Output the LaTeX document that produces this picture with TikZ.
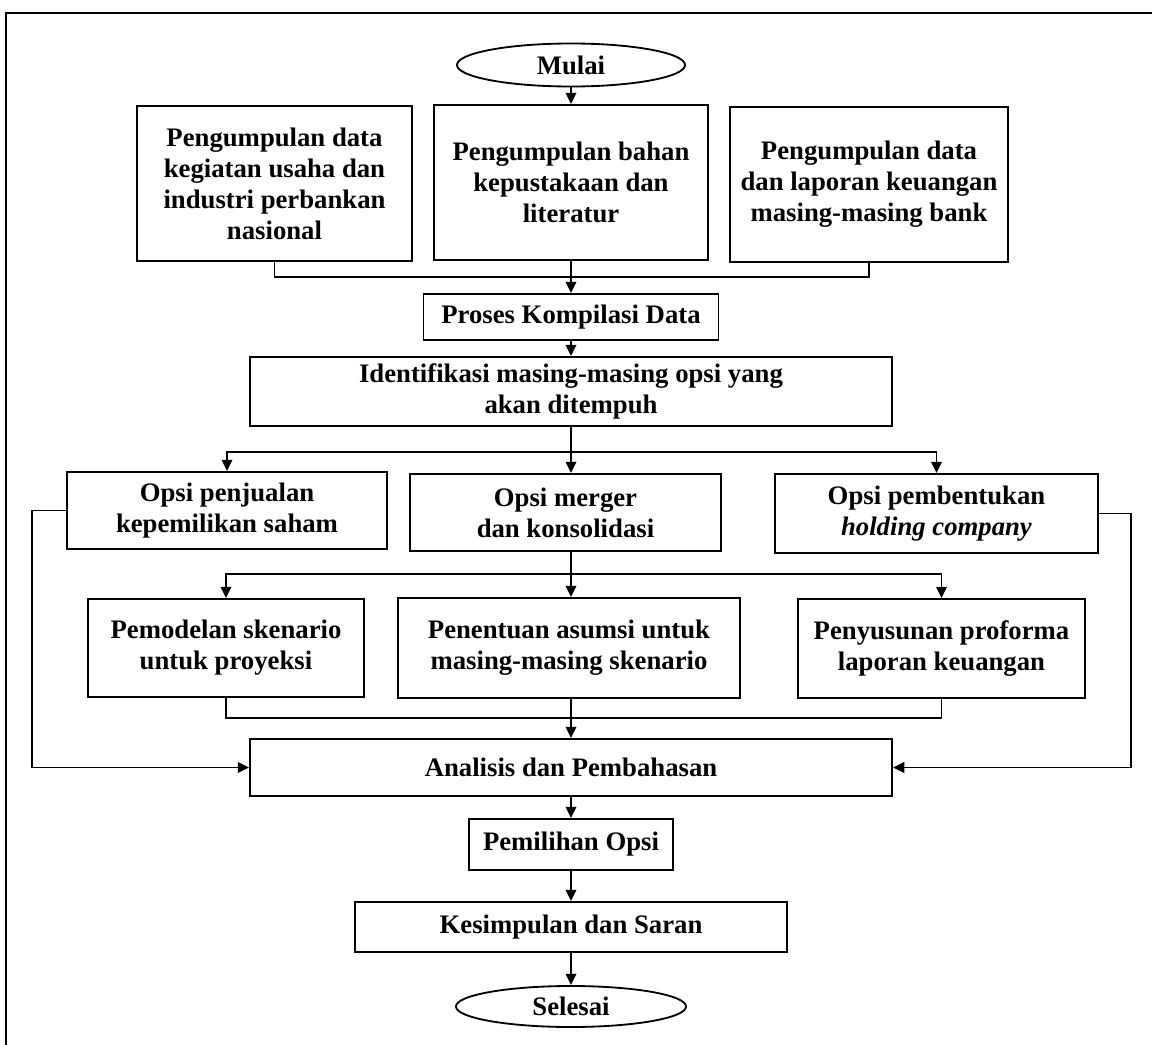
\documentclass[tikz,border=0pt]{standalone}
\usepackage{fontspec}
\setmainfont{Liberation Serif}
\usetikzlibrary{arrows.meta,shapes.geometric}

\begin{document}
\begin{tikzpicture}[x=0.025cm, y=-0.025cm, line width=1.3pt,
    kotak/.style={draw, rectangle, align=center, inner sep=0pt, font=\fontsize{19}{22}\selectfont\bfseries},
    oval/.style={draw, ellipse, inner sep=0pt, font=\fontsize{19}{22}\selectfont\bfseries},
    panah/.style={-{Triangle[length=8pt,width=7.5pt]}}]
    \useasboundingbox (0,0) rectangle (1152,1045);
    \draw (6,1045) -- (6,13) -- (1152,13);

    \node[oval, minimum width=5.7cm, minimum height=1.075cm] (mulai) at (571,65) {Mulai};
    \node[kotak, minimum width=6.875cm, minimum height=3.875cm] (data1) at (274.5,183.5) {Pengumpulan data\\kegiatan usaha dan\\industri perbankan\\nasional};
    \node[kotak, minimum width=6.85cm, minimum height=3.875cm] (pustaka) at (571,182.5) {Pengumpulan bahan\\kepustakaan dan\\literatur};
    \node[kotak, minimum width=6.95cm, minimum height=3.875cm] (data2) at (869,184.5) {Pengumpulan data\\dan laporan keuangan\\masing-masing bank};
    \node[kotak, minimum width=7.375cm, minimum height=1.15cm] (kompilasi) at (571,317) {Proses Kompilasi Data};
    \node[kotak, minimum width=16.05cm, minimum height=1.725cm] (identifikasi) at (571,391.5) {Identifikasi masing-masing opsi yang\\akan ditempuh};
    \node[kotak, minimum width=8cm, minimum height=1.925cm] (jual) at (227,510.5) {Opsi penjualan\\kepemilikan saham};
    \node[kotak, minimum width=7.775cm, minimum height=1.925cm] (merger) at (565.5,512.5) {Opsi merger\\dan konsolidasi};
    \node[kotak, minimum width=8.075cm, minimum height=1.975cm] (holding) at (936.5,513.5) {Opsi pembentukan\\\textit{holding company}};
    \node[kotak, minimum width=6.9cm, minimum height=2.45cm] (model) at (226,648) {Pemodelan skenario\\untuk proyeksi};
    \node[kotak, minimum width=8.55cm, minimum height=2.5cm] (asumsi) at (569,648) {Penentuan asumsi untuk\\masing-masing skenario};
    \node[kotak, minimum width=7.175cm, minimum height=2.475cm] (proforma) at (941.5,648.5) {Penyusunan proforma\\laporan keuangan};
    \node[kotak, minimum width=16.05cm, minimum height=1.425cm] (analisis) at (571,767.5) {Analisis dan Pembahasan};
    \node[kotak, minimum width=5.1cm, minimum height=1.275cm] (pilih) at (571,844.5) {Pemilihan Opsi};
    \node[kotak, minimum width=10.8cm, minimum height=1.25cm] (simpul) at (571,927) {Kesimpulan dan Saran};
    \node[oval, minimum width=5.75cm, minimum height=1.025cm] (selesai) at (571,1006.5) {Selesai};

    \coordinate (gab1) at (571,277);
    \coordinate (cab1) at (571,452);
    \coordinate (cab2) at (571,574);
    \coordinate (gab2) at (571,718);
    \coordinate (kiri) at (32,0);
    \coordinate (kanan) at (1131,0);

    % 矢印を引く
    \draw[panah] (mulai) -- (pustaka);
    \draw (data1.south) |- (gab1) -| (data2.south);
    \draw[panah] (pustaka) -- (kompilasi);
    \draw[panah] (kompilasi) -- (identifikasi);
    \draw (identifikasi.south) -- (cab1);
    \draw[panah] (cab1) -| (jual.north);
    \draw[panah] (cab1) -| (holding.north);
    \draw[panah] (cab1) -- (cab1 |- merger.north);
    \draw (cab1 |- merger.south) -- (cab2);
    \draw[panah] (cab2) -| (model.north);
    \draw[panah] (cab2) -| (proforma.north);
    \draw[panah] (cab2) -- (cab2 |- asumsi.north);
    \draw (model.south) |- (gab2) -| (proforma.south);
    \draw[panah] (gab2 |- asumsi.south) -- (analisis.north);
    \draw[panah] (jual.west) -| (kiri |- analisis.west) -- (analisis.west);
    \draw[panah] (holding.east) -| (kanan |- analisis.east) -- (analisis.east);
    \draw[panah] (analisis) -- (pilih);
    \draw[panah] (pilih) -- (simpul);
    \draw[panah] (simpul) -- (selesai);
\end{tikzpicture}
\end{document}
